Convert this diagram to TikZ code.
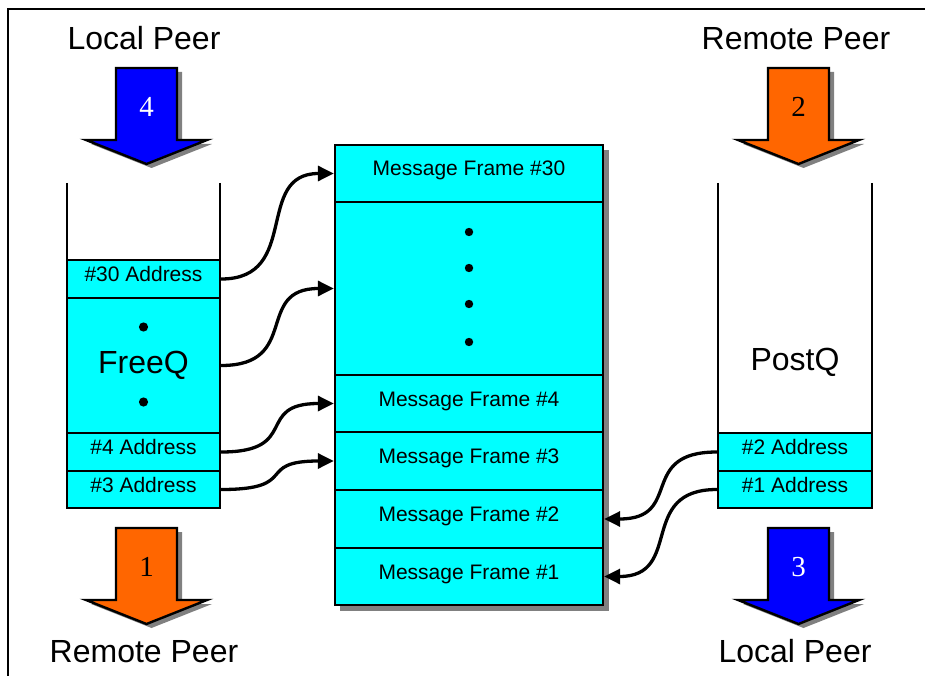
\documentclass[tikz,border=0pt]{standalone}
\usepackage{fontspec}
\setmainfont{Liberation Sans}
\newfontfamily\digitfont{Liberation Serif}
\usetikzlibrary{arrows.meta}

\definecolor{qcyan}{RGB}{0,255,255}
\definecolor{peerblue}{RGB}{0,0,255}
\definecolor{peerorange}{RGB}{255,102,0}
\definecolor{shadowgray}{RGB}{128,128,128}

% Big block arrow: name, centre x, top y, fill, digit colour, digit
\newcommand\peerarrow[6]{%
  \begin{scope}[shift={(#2,#3)}]
    \fill[shadowgray, shift={(5,4)}] (-30.5,0) -- (30.5,0) -- (30.5,72) -- (60.5,72)
      -- (0,96) -- (-60.5,72) -- (-30.5,72) -- cycle;
    \draw[line width=2.4pt, line join=miter, fill=#4] (-30.5,0) -- (30.5,0) -- (30.5,72)
      -- (60.5,72) -- (0,96) -- (-60.5,72) -- (-30.5,72) -- cycle;
    \node[digit, text=#5] (#1) at (0,39) {#6};
  \end{scope}}

\begin{document}
\begin{tikzpicture}[x=1pt, y=-1pt,
  cell/.style={draw, line width=2.4pt, fill=qcyan, inner sep=0pt,
    font=\fontsize{21}{24}\selectfont, text height=15pt, text depth=10pt},
  bigtext/.style={inner sep=0pt, font=\fontsize{32}{36}\selectfont},
  peertext/.style={inner sep=0pt, anchor=base, font=\fontsize{32}{36}\selectfont},
  digit/.style={inner sep=0pt, font=\digitfont\fontsize{29}{30}\selectfont},
  conn/.style={line width=3.3pt, -{Triangle[length=16pt,width=15pt]}},
  qwall/.style={line width=2.6pt},
  dotmark/.style={fill=black}]

\useasboundingbox (0,0) rectangle (925,676);

% outer frame (left and top edges)
\draw[line width=1.8pt] (8,676) -- (8,9) -- (925,9);

% ---- message frame stack ----
\fill[shadowgray] (340,150) rectangle (609,611);
\node[cell, minimum width=268pt, minimum height=57pt]  (f30)   at (469,173.5) {Message Frame \#30};
\node[cell, minimum width=268pt, minimum height=173pt] (fdots) at (469,288.5) {};
\node[cell, minimum width=268pt, minimum height=57pt]  (f4)    at (469,403.5) {Message Frame \#4};
\node[cell, minimum width=268pt, minimum height=58pt]  (f3)    at (469,461)   {Message Frame \#3};
\node[cell, minimum width=268pt, minimum height=58pt]  (f2)    at (469,519)   {Message Frame \#2};
\node[cell, minimum width=268pt, minimum height=57pt]  (f1)    at (469,576.5) {Message Frame \#1};
\foreach \yy in {232,268,304,342}
  \fill[dotmark] (469,\yy) circle (4.2);

% ---- FreeQ (left queue) ----
\coordinate (lqL) at (67,183);
\coordinate (lqR) at (220,183);
\node[cell, minimum width=153pt, minimum height=38pt]  (a30)   at (143.5,279)   {\#30 Address};
\node[cell, minimum width=153pt, minimum height=135pt, text height=, text depth=,
      font=\fontsize{32}{36}\selectfont] (freeq) at (143.5,365.5) {FreeQ};
\node[cell, minimum width=153pt, minimum height=38pt]  (a4)    at (143.5,452)   {\#4 Address};
\node[cell, minimum width=153pt, minimum height=37pt]  (a3)    at (143.5,489.5) {\#3 Address};
\draw[qwall] (lqL) -- (lqL |- a30.center);
\draw[qwall] (lqR) -- (lqR |- a30.center);
\fill[dotmark] (143.5,327) circle (4.6);
\fill[dotmark] (143.5,402) circle (4.6);

% ---- PostQ (right queue) ----
\coordinate (rqL) at (718,183);
\coordinate (rqR) at (872,183);
\node[cell, minimum width=154pt, minimum height=38pt] (a2) at (795,452)   {\#2 Address};
\node[cell, minimum width=154pt, minimum height=37pt] (a1) at (795,489.5) {\#1 Address};
\draw[qwall] (rqL) -- (rqL |- a2.north);
\draw[qwall] (rqR) -- (rqR |- a2.north);
\node[bigtext] (postq) at (795,362) {PostQ};

% ---- connectors ----
\draw[conn] (a30.east)   .. controls +(80,0) and +(-80,0) .. (f30.west);
\draw[conn] (freeq.east) .. controls +(80,0) and +(-80,0) .. (fdots.west);
\draw[conn] (a4.east)    .. controls +(80,0) and +(-80,0) .. (f4.west);
\draw[conn] (a3.east)    .. controls +(80,0) and +(-80,0) .. (f3.west);
\draw[conn] (a2.west)    .. controls +(-80,0) and +(80,0) .. (f2.east);
\draw[conn] (a1.west)    .. controls +(-80,0) and +(80,0) .. (f1.east);

% ---- peer arrows ----
\peerarrow{step4}{146.5}{68}{peerblue}{white}{4}
\peerarrow{step2}{798.5}{68}{peerorange}{black}{2}
\peerarrow{step1}{146.5}{528}{peerorange}{black}{1}
\peerarrow{step3}{798.5}{528}{peerblue}{white}{3}

\node[peertext] (lpTop) at (144,50)  {Local Peer};
\node[peertext] (rpTop) at (796,50)  {Remote Peer};
\node[peertext] (rpBot) at (144,662) {Remote Peer};
\node[peertext] (lpBot) at (795,662) {Local Peer};

\end{tikzpicture}
\end{document}
